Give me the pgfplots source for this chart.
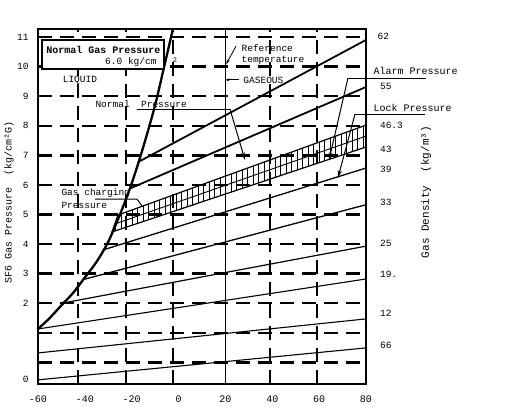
\documentclass[border=0pt]{standalone}
\usepackage{fontspec}
\setmainfont{Liberation Mono}
\usepackage{pgfplots}
\pgfplotsset{compat=1.18}
\usetikzlibrary{patterns.meta,arrows.meta}
\newcommand\fs[1]{\fontsize{#1}{#1}\selectfont}

\begin{document}
\begin{tikzpicture}[x=1pt,y=1pt]
\useasboundingbox (0,0) rectangle (507,407);
\begin{axis}[
  at={(38pt,23pt)}, anchor=south west,
  scale only axis, width=328pt, height=355pt,
  xmin=-60, xmax=80, ymin=-0.73, ymax=11.27,
  clip=false,
  axis line style={line width=2pt},
  major tick length=0pt,
  xtick={-60,-40,-20,0,20,40,60,80},
  xticklabels={-60,-40,-20,0,20,40,60,80},
  ytick={0,1,...,11},
  yticklabels={,,2,3,4,5,6,7,8,9,10,11},
  extra y ticks={-0.59}, extra y tick labels={0},
  extra y tick style={grid=none},
  extra x ticks={-42.9,-22.4,-2.4,39.0,59.1},
  extra x tick labels={},
  extra x tick style={grid=major},
  ymajorgrids=true,
  major grid style={black, line width=2.4pt, dash pattern=on 14pt off 8pt},
  xticklabel style={font=\fs{10}, yshift=-8pt},
  yticklabel style={font=\fs{9.5}, xshift=-6pt},
  /pgf/number format/assume math mode=true,
]
% saturation curve
\addplot[line width=2.3pt, smooth, tension=0.5] coordinates {(-60,1.13) (-55,1.5) (-50,1.93) (-45,2.35) (-40,2.87) (-35,3.4) (-30,4.08) (-25,5.0) (-20,6.05) (-15,7.3) (-10,8.7) (-6,10.05) (-2.4,11.27)};
% density lines
\addplot[line width=1.8pt] coordinates {(-17.3,6.77) (80,10.90)};
\addplot[line width=1.8pt] coordinates {(-20.7,5.88) (80,9.31)};
\addplot[draw=black, line width=1.2pt, pattern={Lines[angle=90,distance=5.5pt,line width=0.9pt]}] coordinates {(-25.9,4.98) (80,8.02) (80,7.28) (-28.4,4.41)} -- cycle;
\addplot[line width=0.9pt] coordinates {(-27.1,4.68) (80,7.65)};
\addplot[line width=1.3pt] coordinates {(-32.3,3.80) (80,6.57)};
\addplot[line width=1.3pt] coordinates {(-41.2,2.79) (80,5.33)};
\addplot[line width=1.2pt] coordinates {(-48.5,2.02) (80,3.93)};
\addplot[line width=1.1pt] coordinates {(-60,1.13) (80,2.82)};
\addplot[line width=1.1pt] coordinates {(-60,0.32) (80,1.47)};
\addplot[line width=1.1pt] coordinates {(-60,-0.59) (80,0.49)};
% reference temperature line
\addplot[line width=0.8pt] coordinates {(20,-0.73) (20,11.27)};

% annotations
\draw[line width=1.8pt, fill=white] (axis cs:-58.29,10.90) rectangle (axis cs:-6.22,9.92);
\node[anchor=west, font=\fs{10}\bfseries] at (axis cs:-57.9,10.56) {Normal Gas Pressure};
\node[anchor=east, font=\fs{9.5}] at (axis cs:-7.9,10.15) {6.0 kg/cm};
\node[font=\fs{7}] at (axis cs:-1.5,10.22) {2};
\node[font=\fs{9.5}] at (axis cs:-42.1,9.54) {LIQUID};
\node[anchor=west,font=\fs{9.5}] at (axis cs:-36.95,8.73) {Normal\ \ Pressure};
\draw[line width=0.8pt] (axis cs:-17.75,8.56) -- (axis cs:21.95,8.56);
\draw[line width=1pt, -{Stealth[length=8pt,width=4pt]}] (axis cs:21.95,8.56) -- (axis cs:28.35,6.84);
\node[anchor=west,font=\fs{9.5}] at (axis cs:25.4,10.62) {Reference};
\node[anchor=west,font=\fs{9.5}] at (axis cs:25.4,10.22) {temperature};
\draw[line width=0.8pt,-{Stealth[length=5pt,width=3pt]}] (axis cs:24.5,10.69) -- (axis cs:20.3,10.08);
\node[anchor=west,font=\fs{9.5}] at (axis cs:26.2,9.54) {GASEOUS};
\draw[line width=0.8pt,-{Stealth[length=4pt,width=3pt]}] (axis cs:26.0,9.55) -- (axis cs:20,9.55);
\node[anchor=west,font=\fs{10}] at (axis cs:81.7,9.85) {Alarm Pressure};
\draw[line width=1pt] (axis cs:72.3,9.61) -- (axis cs:105.6,9.61);
\draw[line width=1pt,-{Stealth[length=8pt,width=4pt]}] (axis cs:72.3,9.61) -- (axis cs:64.2,6.84);
\node[anchor=west,font=\fs{10}] at (axis cs:81.7,8.60) {Lock Pressure};
\draw[line width=1pt] (axis cs:75.3,8.39) -- (axis cs:105.2,8.39);
\draw[line width=1pt,-{Stealth[length=8pt,width=4pt]}] (axis cs:75.3,8.39) -- (axis cs:68.0,6.23);
\node[anchor=west,font=\fs{9.5}] at (axis cs:-51.46,5.73) {Gas charging};
\node[anchor=west,font=\fs{9.5}] at (axis cs:-51.46,5.32) {Pressure};
\draw[line width=0.9pt] (axis cs:-35.67,5.52) -- (axis cs:-17.75,5.52) -- (axis cs:-15.6,5.29);
% right density labels
\node[anchor=west,font=\fs{9.5}] at (axis cs:83.5,11.03) {62};
\node[anchor=west,font=\fs{9.5}] at (axis cs:84.5,9.34) {55};
\node[anchor=west,font=\fs{9.5}] at (axis cs:84.5,8.02) {46.3};
\node[anchor=west,font=\fs{9.5}] at (axis cs:84.5,7.21) {43};
\node[anchor=west,font=\fs{9.5}] at (axis cs:84.5,6.54) {39};
\node[anchor=west,font=\fs{9.5}] at (axis cs:84.5,5.42) {33};
\node[anchor=west,font=\fs{9.5}] at (axis cs:84.5,4.04) {25};
\node[anchor=west,font=\fs{9.5}] at (axis cs:84.5,2.96) {19.};
\node[anchor=west,font=\fs{9.5}] at (axis cs:84.5,1.67) {12};
\node[anchor=west,font=\fs{9.5}] at (axis cs:84.5,0.59) {66};
\end{axis}
\node[rotate=90,font=\fs{10}] at (9,205) {SF6 Gas Pressure\ \ (kg/cm²G)};
\node[rotate=90,font=\fs{11}] at (426,215) {Gas Density\ \ (kg/m³)};
\end{tikzpicture}
\end{document}
